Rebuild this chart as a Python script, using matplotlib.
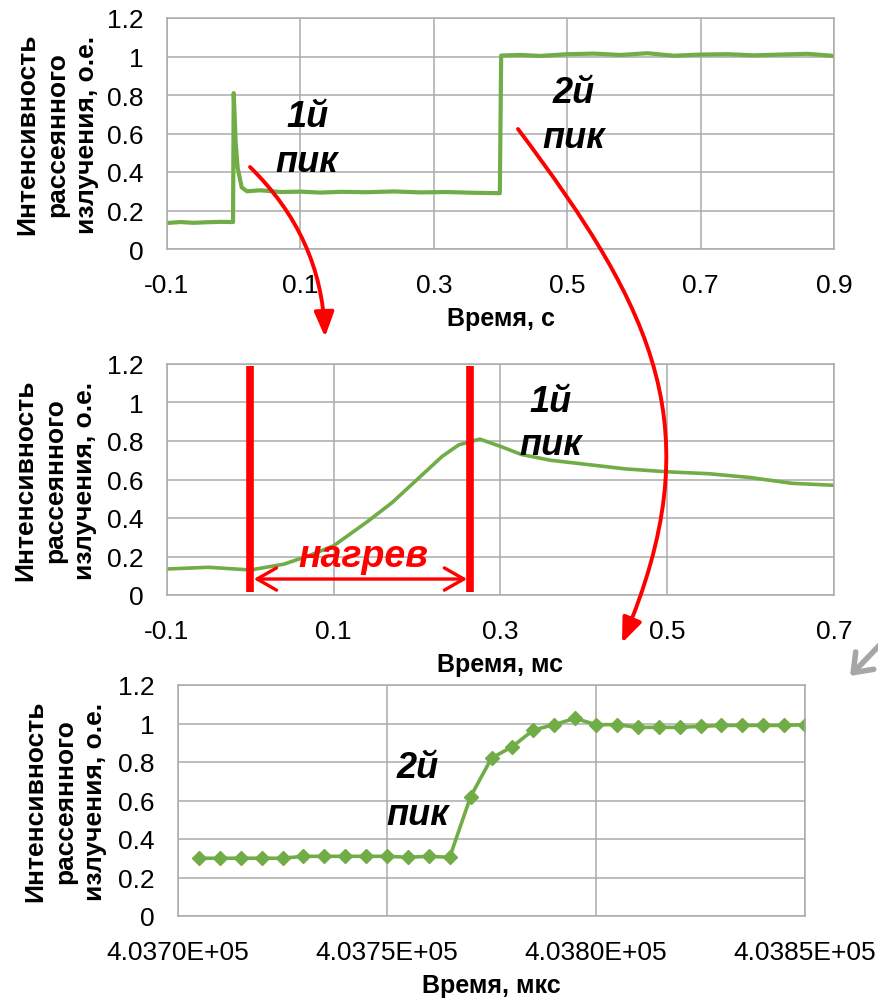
import numpy as np
import matplotlib
matplotlib.use("Agg")
import matplotlib.pyplot as plt
from matplotlib.patches import FancyArrowPatch
from matplotlib.path import Path
from matplotlib.ticker import FuncFormatter, MultipleLocator

plt.rcParams['font.family'] = ['Liberation Sans', 'DejaVu Sans']

# --- data ---
# top: whole record, time in s
t_s = [-0.1, -0.08, -0.06, -0.04, -0.02, -0.001, 0.0, 0.003, 0.006, 0.012, 0.02,
       0.04, 0.07, 0.1, 0.13, 0.16, 0.2, 0.24, 0.28, 0.32, 0.36, 0.399,
       0.401, 0.43, 0.46, 0.5, 0.54, 0.58, 0.62, 0.66, 0.7, 0.74, 0.78,
       0.82, 0.86, 0.9]
i_s = [0.135, 0.14, 0.136, 0.139, 0.141, 0.14, 0.81, 0.55, 0.42, 0.32, 0.3,
       0.305, 0.296, 0.298, 0.293, 0.297, 0.295, 0.299, 0.294, 0.296, 0.292, 0.29,
       1.005, 1.008, 1.003, 1.012, 1.015, 1.008, 1.017, 1.004, 1.01, 1.012, 1.006,
       1.01, 1.014, 1.003]
ticks_s = [-0.1, 0.1, 0.3, 0.5, 0.7, 0.9]

# middle: 1st peak, time in ms
t_ms = [-0.1, -0.05, 0.0, 0.04, 0.07, 0.1, 0.14, 0.17, 0.2, 0.23, 0.25, 0.275,
        0.3, 0.325, 0.36, 0.4, 0.45, 0.5, 0.55, 0.6, 0.65, 0.7]
i_ms = [0.135, 0.144, 0.13, 0.16, 0.204, 0.256, 0.38, 0.48, 0.6, 0.72, 0.78, 0.81,
        0.772, 0.73, 0.7, 0.68, 0.655, 0.64, 0.63, 0.61, 0.58, 0.57]
ticks_ms = [-0.1, 0.1, 0.3, 0.5, 0.7]
heat_start, heat_end = 0.0, 0.264

# bottom: 2nd peak, time in us
t_us = [403705, 403710, 403715, 403720, 403725, 403730, 403735, 403740, 403745,
        403750, 403755, 403760, 403765, 403770, 403775, 403780, 403785, 403790,
        403795, 403800, 403805, 403810, 403815, 403820, 403825, 403830, 403835,
        403840, 403845, 403850]
i_us = [0.30, 0.30, 0.30, 0.30, 0.30, 0.31, 0.31, 0.31, 0.31, 0.31, 0.305, 0.31,
        0.305, 0.62, 0.82, 0.88, 0.966, 0.994, 1.027, 0.994, 0.994, 0.98,
        0.98, 0.98, 0.985, 0.99, 0.99, 0.99, 0.99, 0.994]
ticks_us = [403700, 403750, 403800, 403850]

ylabel = "Интенсивность\nрассеянного\nизлучения, о.е."
green = "#70AD47"
grid_c = "#ABABAB"
red = "#FF0000"

W, H = 879, 1003
fig = plt.figure(figsize=(W / 100, H / 100), dpi=100)


def px(x, y):
    # image pixel -> figure fraction
    return (x / W, 1 - y / H)


def style(ax, xlim, xticks, fmt, xlabel, ylab_x):
    ax.set_xlim(*xlim)
    ax.set_ylim(0, 1.2)
    ax.set_xticks(xticks)
    ax.yaxis.set_major_locator(MultipleLocator(0.2))
    ax.xaxis.set_major_formatter(FuncFormatter(fmt))
    ax.yaxis.set_major_formatter(FuncFormatter(lambda v, p: f"{v:g}"))
    ax.grid(True, color=grid_c, lw=1.1)
    ax.set_axisbelow(True)
    for s in ax.spines.values():
        s.set_color(grid_c)
        s.set_linewidth(1.1)
    ax.tick_params(length=0, labelsize=19)
    ax.tick_params(axis='x', pad=17)
    ax.tick_params(axis='y', pad=17)
    ax.set_xlabel(xlabel, fontsize=18, fontweight='bold')
    ax.xaxis.set_label_coords(0.5, -0.245)
    ax.set_ylabel(ylabel, fontsize=19, fontweight='bold', linespacing=1.3,
                  va='center', ha='center')
    ax.yaxis.set_label_coords(ylab_x, 0.5)


xfmt = lambda v, p: f"{v:g}"
kw = dict(fontsize=26, fontweight='bold', style='italic', ha='center', va='baseline')

# top
ax1 = fig.add_axes([167 / W, 1 - 250 / H, 667 / W, 231 / H])
ax1.plot(t_s, i_s, color=green, lw=3)
style(ax1, (-0.1, 0.9), ticks_s, xfmt, "Время, с", -0.165)
ax1.text(0.11, 0.639, "1й", **kw)
ax1.text(0.11, 0.405, "пик", **kw)
ax1.text(0.509, 0.764, "2й", **kw)
ax1.text(0.509, 0.530, "пик", **kw)

# middle
ax2 = fig.add_axes([167 / W, 1 - 596 / H, 667 / W, 231 / H])
ax2.plot(t_ms, i_ms, color=green, lw=2.6)
style(ax2, (-0.1, 0.7), ticks_ms, xfmt, "Время, мс", -0.168)
ax2.vlines([heat_start, heat_end], 0.015, 1.19, color=red, lw=5.5, zorder=4)
ax2.annotate("", xy=(heat_start + 0.004, 0.083), xytext=(heat_end - 0.004, 0.083),
             arrowprops=dict(arrowstyle="<->,head_length=0.7,head_width=0.4",
                             color=red, lw=2.4, mutation_scale=20,
                             shrinkA=0, shrinkB=0), zorder=4)
ax2.text((heat_start + heat_end) / 2 + 0.003, 0.152, "нагрев", color=red, fontsize=27,
         fontweight='bold', style='italic', ha='center', va='baseline', zorder=5)
ax2.text(0.3606, 0.956, "1й", **kw)
ax2.text(0.3606, 0.732, "пик", **kw)

# bottom
ax3 = fig.add_axes([178 / W, 1 - 917 / H, 627 / W, 231 / H])
ax3.plot(t_us, i_us, color=green, lw=2.6, marker='D', ms=7, mec=green, mfc=green)
style(ax3, (403700, 403850), ticks_us, lambda v, p: f"{v:.4E}", "Время, мкс", -0.18)
ax3.text(403757.4, 0.722, "2й", **kw)
ax3.text(403757.4, 0.478, "пик", **kw)

# red arrows linking the panels
head = "-|>,head_length=0.75,head_width=0.3"
a1 = FancyArrowPatch(px(250, 168), px(325, 338), connectionstyle="arc3,rad=-0.2",
                     arrowstyle=head, mutation_scale=20,
                     color=red, lw=2.8, transform=fig.transFigure, shrinkA=0, shrinkB=0)
fig.patches.append(a1)

verts = [px(518, 130), px(656, 314), px(712, 431), px(622, 644)]
p2 = Path(verts, [Path.MOVETO, Path.CURVE4, Path.CURVE4, Path.CURVE4])
a2 = FancyArrowPatch(path=p2, arrowstyle=head,
                     mutation_scale=20, color=red, lw=2.8, transform=fig.transFigure)
fig.patches.append(a2)

# grey arrow cut by the right edge
a3 = FancyArrowPatch(px(895, 630), px(850, 677), arrowstyle="->,head_length=0.6,head_width=0.45",
                     mutation_scale=20, color="#A6A6A6", lw=4, transform=fig.transFigure,
                     shrinkA=0, shrinkB=0)
fig.patches.append(a3)

fig.savefig("out.png", dpi=100)
